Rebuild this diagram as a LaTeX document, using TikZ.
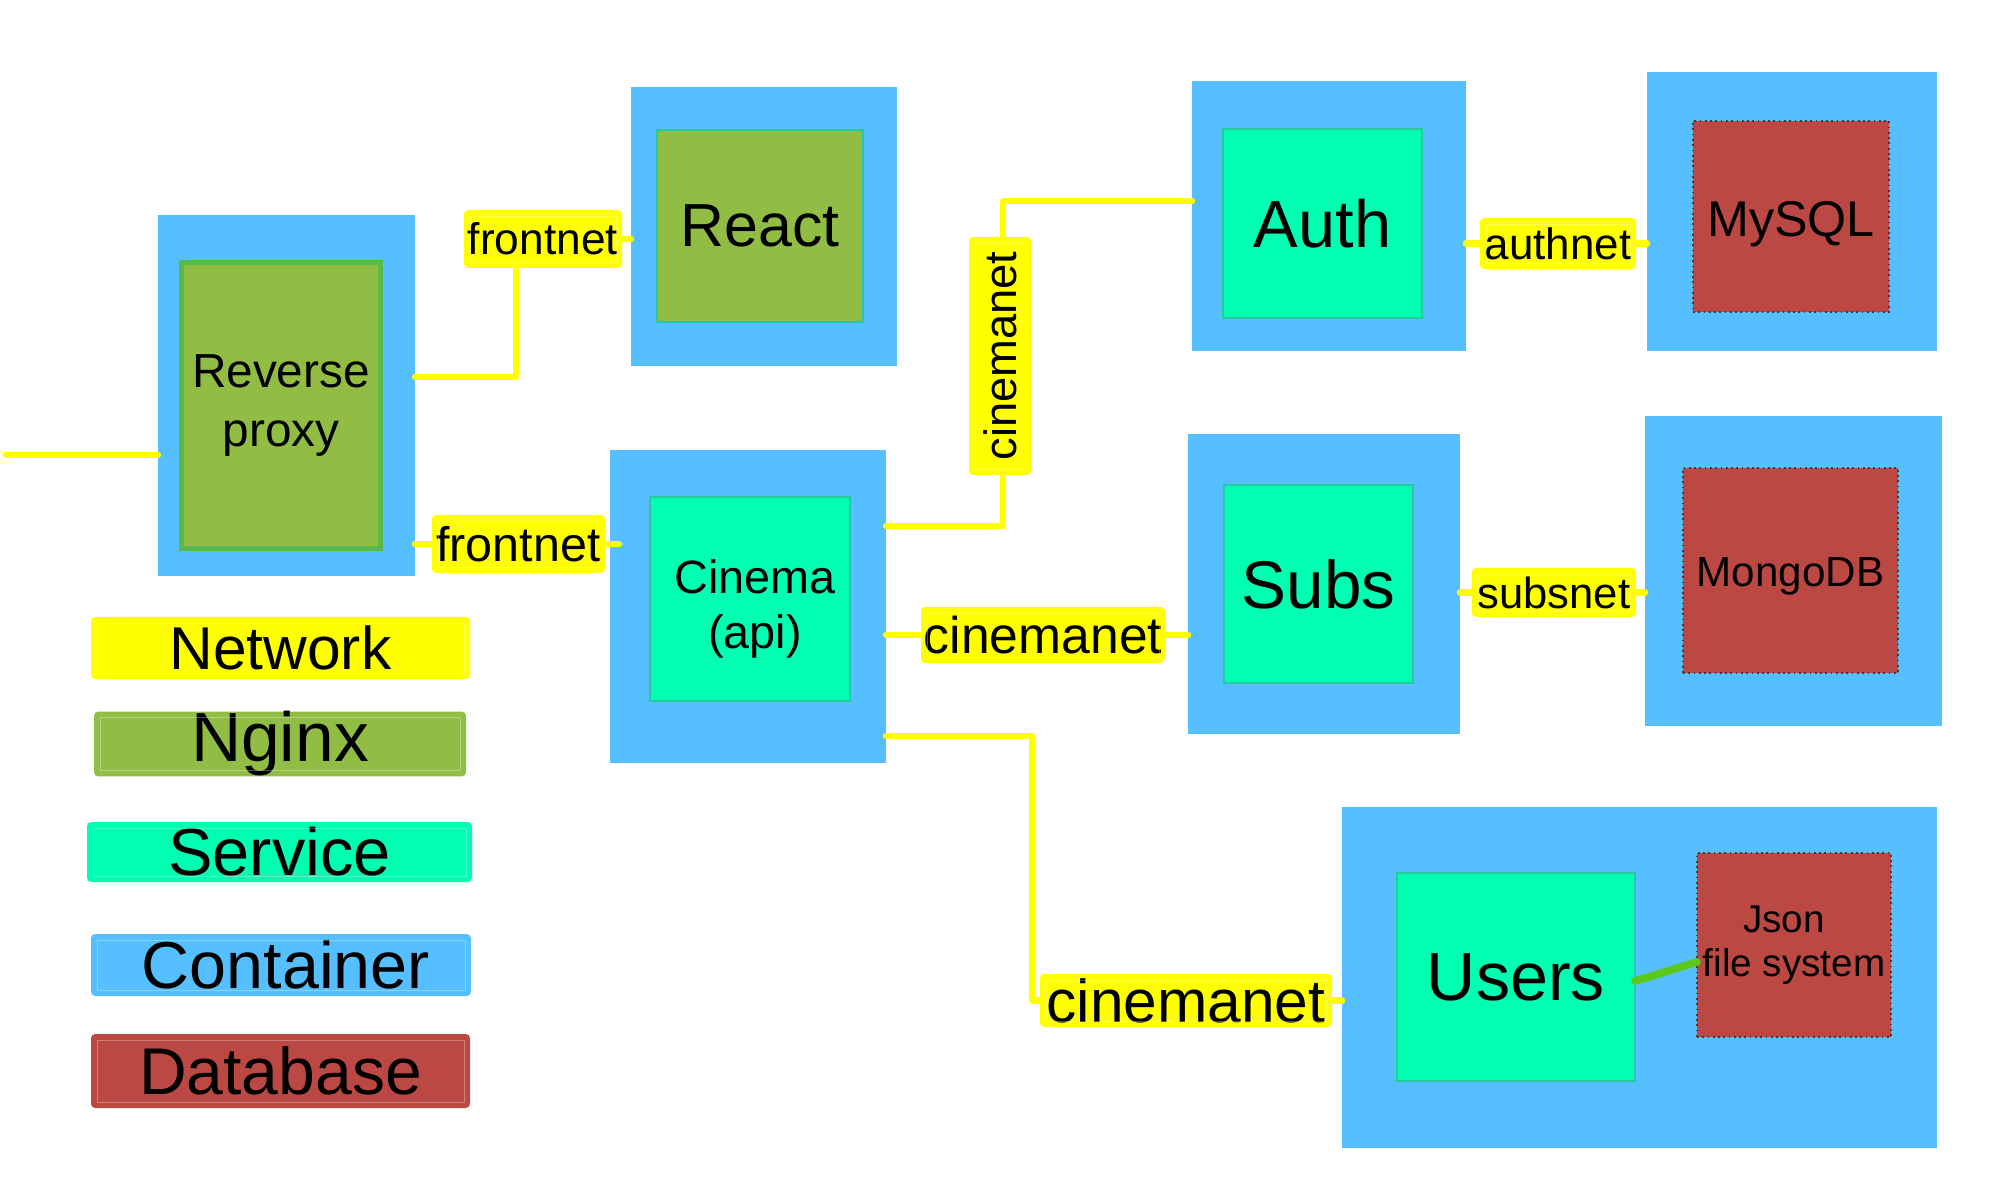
\documentclass[tikz,border=0pt]{standalone}
\usepackage{fontspec}
\setmainfont{Liberation Sans}
\usetikzlibrary{calc}
\definecolor{cblue}{RGB}{85,191,255}
\definecolor{ngreen}{RGB}{146,189,69}
\definecolor{rpborder}{RGB}{88,186,74}
\definecolor{svc}{RGB}{0,255,176}
\definecolor{svcb}{RGB}{40,200,160}
\definecolor{dbred}{RGB}{188,72,68}
\definecolor{dbb}{RGB}{90,50,50}
\definecolor{netyellow}{RGB}{255,255,0}
\definecolor{lnkgreen}{RGB}{93,200,28}
\pgfdeclarelayer{paper}\pgfdeclarelayer{back}\pgfdeclarelayer{mid}\pgfsetlayers{paper,back,mid,main}
\tikzset{
  box/.style={inner sep=0pt, outer sep=0pt, align=center, text=black},
  container/.style={box, fill=cblue},
  nginx/.style={box, fill=ngreen},
  service/.style={box, fill=svc, draw=svcb, line width=0.4pt},
  db/.style={box, fill=dbred, draw=dbb, line width=0.5pt, densely dotted},
  net/.style={box, fill=netyellow, rounded corners=1.2pt},
  legendbox/.style={box, rounded corners=1.2pt},
  wire/.style={draw=netyellow, line width=1.8pt, line cap=round, line join=round},
  fswire/.style={draw=lnkgreen, line width=2.2pt, line cap=round},
  faint/.style={draw=white, opacity=0.3, line width=0.25pt},
  boxtext/.style={inner sep=0pt, align=center, text=black},
}
\begin{document}
\begin{tikzpicture}[x=0.1mm, y=-0.1mm]
\begin{pgfonlayer}{paper}
\useasboundingbox[fill=white] (0,0) rectangle (2000,1200);
\end{pgfonlayer}

\begin{pgfonlayer}{back}
% containers
\node[container, minimum width=25.7mm, minimum height=36.1mm] (cRP) at (286.5,395.5) {};
\node[container, minimum width=26.6mm, minimum height=27.9mm] (cReact) at (764,226.5) {};
\node[container, minimum width=27.6mm, minimum height=31.3mm] (cCinema) at (748,606.5) {};
\node[container, minimum width=27.4mm, minimum height=27.0mm] (cAuth) at (1329,216) {};
\node[container, minimum width=29.0mm, minimum height=27.9mm] (cMySQL) at (1792,211.5) {};
\node[container, minimum width=27.2mm, minimum height=30.0mm] (cSubs) at (1324,584) {};
\node[container, minimum width=29.7mm, minimum height=31.0mm] (cMongo) at (1793.5,571) {};
\node[container, minimum width=59.5mm, minimum height=34.1mm] (cUsers) at (1639.5,977.5) {};
% inner boxes
\node[nginx, draw=rpborder, line width=1.5pt, minimum width=19.9mm, minimum height=28.6mm,
      font=\fontsize{13.6}{16.9}\selectfont] (rp) at (281,405.5) {Reverse\\proxy};
\node[nginx, draw=svcb, line width=0.4pt, minimum width=20.6mm, minimum height=19.2mm,
      font=\fontsize{17.3}{20}\selectfont] (react) at (760,226) {React};
\node[service, minimum width=20.0mm, minimum height=20.4mm,
      label={[boxtext, font=\fontsize{13.3}{15.6}\selectfont, xshift=0.5mm, yshift=-1mm]center:{Cinema\\(api)}}] (cinema) at (750,599) {};
\node[service, minimum width=19.9mm, minimum height=18.9mm,
      font=\fontsize{19}{22}\selectfont] (auth) at (1322.5,223.5) {Auth};
\node[db, minimum width=19.6mm, minimum height=19.1mm,
      label={[boxtext, font=\fontsize{14.3}{17}\selectfont, yshift=-0.8mm]center:MySQL}] (mysql) at (1791,216.5) {};
\node[service, minimum width=18.9mm, minimum height=19.8mm,
      font=\fontsize{19.2}{22}\selectfont] (subs) at (1318.5,584) {Subs};
\node[db, minimum width=21.5mm, minimum height=20.5mm,
      label={[boxtext, font=\fontsize{12}{14}\selectfont, yshift=-0.6mm]center:MongoDB}] (mongo) at (1790.5,570.5) {};
\node[service, minimum width=23.8mm, minimum height=20.8mm,
      font=\fontsize{19.4}{22}\selectfont] (users) at (1516,977) {Users};
\node[db, minimum width=19.4mm, minimum height=18.4mm,
      font=\fontsize{11}{12.5}\selectfont] (json) at (1794,945) {Json\hspace*{2mm}\\file system};
\end{pgfonlayer}

% network labels
\node[net, minimum width=15.8mm, minimum height=5.8mm, font=\fontsize{12.6}{15}\selectfont] (fn1) at (543,239) {frontnet};
\node[net, minimum width=17.3mm, minimum height=5.8mm, font=\fontsize{13.8}{16}\selectfont] (fn2) at (518.5,544) {frontnet};
\node[net, minimum width=6.2mm, minimum height=23.8mm, font=\fontsize{12.9}{15}\selectfont] (cnV) at (1000,356) {\rotatebox{90}{cinemanet}};
\node[net, minimum width=24.4mm, minimum height=5.6mm, font=\fontsize{14.7}{17}\selectfont] (cnM) at (1043,635) {cinemanet};
\node[net, minimum width=15.6mm, minimum height=5.1mm, font=\fontsize{12.5}{15}\selectfont] (an) at (1558,243.5) {authnet};
\node[net, minimum width=16.4mm, minimum height=4.9mm, font=\fontsize{12.4}{15}\selectfont] (sn) at (1554,592.5) {subsnet};
\node[net, minimum width=29.2mm, minimum height=5.3mm, font=\fontsize{17.2}{20}\selectfont] (cnL) at (1186,1000.5) {cinemanet};

% legend
\node[legendbox, fill=netyellow, minimum width=37.9mm, minimum height=6.2mm, font=\fontsize{17.2}{20}\selectfont] (lgNet) at (280.5,648) {Network};
\node[legendbox, fill=ngreen, minimum width=37.2mm, minimum height=6.4mm, font=\fontsize{19.8}{22}\selectfont] (lgNginx) at (280,744) {Nginx};
\node[legendbox, fill=svc, minimum width=38.5mm, minimum height=6.0mm, font=\fontsize{19}{22}\selectfont] (lgSvc) at (279.5,852) {Service};
\node[legendbox, fill=cblue, minimum width=38.0mm, minimum height=6.2mm, font=\fontsize{18.9}{22}\selectfont] (lgCont) at (281,965) {\hspace*{1mm}Container};
\node[legendbox, fill=dbred, minimum width=37.9mm, minimum height=7.4mm, font=\fontsize{18.8}{22}\selectfont] (lgDb) at (280.5,1071) {Database};

\foreach \n in {lgNet,lgNginx,lgSvc,lgCont,lgDb,fn1,fn2,cnV,cnM,an,sn,cnL}
  \draw[faint] ([shift={(6,6)}]\n.north west) rectangle ([shift={(-6,-6)}]\n.south east);

% connectors
\begin{pgfonlayer}{mid}
\coordinate (inlet) at (6,455);
\draw[wire] (inlet) -- (inlet -| cRP.west);
\draw[wire] (cRP.east |- 0,377) -| ([xshift=-2.7mm]fn1.south);
\draw[wire] (fn1.east) -- (cReact.west |- fn1.east);
\draw[wire] (cRP.east |- fn2.west) -- (fn2.west);
\draw[wire] (fn2.east) -- ([xshift=0.9mm]cCinema.west |- fn2.east);
\draw[wire] (cCinema.east |- 0,526) -| ([xshift=0.3mm]cnV.south);
\draw[wire] ([xshift=0.3mm]cnV.north) |- (cAuth.west |- 0,201);
\draw[wire] (cCinema.east |- cnM.west) -- (cnM.west);
\draw[wire] (cnM.east) -- (cSubs.west |- cnM.east);
\draw[wire] (cCinema.east |- 0,736) -| ([xshift=-0.8mm]cnL.west) -- (cnL.west);
\draw[wire] (cnL.east) -- (cUsers.west |- cnL.east);
\draw[wire] (cAuth.east |- an.west) -- (an.west);
\draw[wire] (an.east) -- (cMySQL.west |- an.east);
\draw[wire] (cSubs.east |- sn.west) -- (sn.west);
\draw[wire] (sn.east) -- (cMongo.west |- sn.east);
\draw[fswire] (users.east |- 0,981) -- (json.west |- 0,962);
\end{pgfonlayer}
\end{tikzpicture}
\end{document}
